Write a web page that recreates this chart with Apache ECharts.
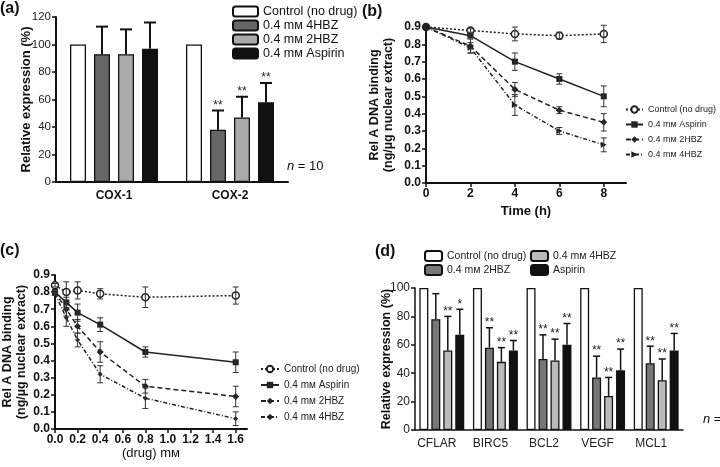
<!DOCTYPE html>
<html>
<head>
<meta charset="utf-8">
<script src="https://cdn.jsdelivr.net/npm/echarts@6/dist/echarts.min.js"></script>
<style>
html,body{margin:0;padding:0;background:#fff;}
#main{width:720px;height:467px;}
</style>
</head>
<body>
<div id="main"></div>
<script>
// (a) COX expression
var catsA = ['COX-1', 'COX-2'];
var a_ctl = [100, 100];
var a_4hbz = [93, 38];
var a_4hbz_hi = [113, 52];
var a_2hbz = [93, 47];
var a_2hbz_hi = [111, 62];
var a_asp = [97, 58];
var a_asp_hi = [116, 72];
var a_stars = ['', '**'];

// (b) time course
var timeB = [0, 2, 4, 6, 8];
var b_ctl = [0.90, 0.88, 0.86, 0.85, 0.86];
var b_ctl_err = [0, 0.01, 0.04, 0.02, 0.05];
var b_asp = [0.90, 0.85, 0.70, 0.60, 0.50];
var b_asp_err = [0, 0.01, 0.05, 0.03, 0.06];
var b_2hbz = [0.90, 0.79, 0.54, 0.42, 0.35];
var b_2hbz_err = [0, 0.04, 0.04, 0.02, 0.05];
var b_4hbz = [0.90, 0.78, 0.45, 0.30, 0.22];
var b_4hbz_err = [0, 0.03, 0.06, 0.02, 0.04];

// (c) dose response
var doseC = [0, 0.1, 0.2, 0.4, 0.8, 1.6];
var c_ctl = [0.84, 0.80, 0.81, 0.79, 0.77, 0.78];
var c_ctl_err = [0.01, 0.06, 0.05, 0.03, 0.06, 0.05];
var c_asp = [0.80, 0.74, 0.68, 0.61, 0.45, 0.39];
var c_asp_err = [0.01, 0.03, 0.05, 0.04, 0.03, 0.06];
var c_2hbz = [0.80, 0.70, 0.60, 0.45, 0.25, 0.19];
var c_2hbz_err = [0.01, 0.04, 0.04, 0.06, 0.04, 0.06];
var c_4hbz = [0.79, 0.65, 0.52, 0.32, 0.18, 0.06];
var c_4hbz_err = [0.01, 0.05, 0.04, 0.05, 0.06, 0.04];

// (d) target genes
var catsD = ['CFLAR', 'BIRC5', 'BCL2', 'VEGF', 'MCL1'];
var d_ctl = [100, 100, 100, 100, 100];
var d_2hbz = [78, 58, 50, 37, 47];
var d_2hbz_hi = [96, 72, 67, 52, 59];
var d_4hbz = [56, 48, 49, 24, 35];
var d_4hbz_hi = [80, 58, 64, 37, 50];
var d_asp = [67, 56, 60, 42, 56];
var d_asp_hi = [85, 63, 75, 57, 68];
var d_2hbz_stars = ['', '**', '**', '**', '**'];
var d_4hbz_stars = ['**', '**', '**', '**', '**'];
var d_asp_stars = ['*', '**', '**', '**', '**'];

var FONT = 'Liberation Sans, Arial, sans-serif';
var MM = 'm\u1D0D';

function lbl(name) { return name.split('|')[1]; }

// error bars on top of grouped bars (upwards only, with cap and stars)
function barErr(gi, vals, his, stars, bw, gap, cap, lw) {
    var data = [], labs = [];
    var n = vals.length;
    vals.forEach(function (v, k) {
        if (!his[k]) return;
        v.forEach(function (y, c) {
            data.push([c, k, y, his[k][c]]);
            labs.push(stars[k] ? stars[k][c] : '');
        });
    });
    return {
        type: 'custom', xAxisIndex: gi, yAxisIndex: gi, z: 5, silent: true,
        encode: { x: 0, y: [2, 3] },
        data: data,
        renderItem: function (params, api) {
            var c = api.value(0), k = api.value(1);
            var p0 = api.coord([c, api.value(2)]);
            var p1 = api.coord([c, api.value(3)]);
            var x = p0[0] - (n * bw + (n - 1) * gap) / 2 + k * (bw + gap) + bw / 2;
            var st = { stroke: '#111', lineWidth: lw };
            var kids = [
                { type: 'line', shape: { x1: x, y1: p0[1], x2: x, y2: p1[1] }, style: st },
                { type: 'line', shape: { x1: x - cap, y1: p1[1], x2: x + cap, y2: p1[1] }, style: st }
            ];
            var s = labs[params.dataIndex];
            if (s) {
                kids.push({ type: 'text', style: { text: s, x: x, y: p1[1] + 1, align: 'center', verticalAlign: 'bottom', fontSize: 12, fontFamily: FONT, fill: '#222' } });
            }
            return { type: 'group', children: kids };
        }
    };
}

// symmetric error bars for the line panels
function lineErr(gi, xs, list, cap) {
    var data = [];
    list.forEach(function (p) {
        xs.forEach(function (x, i) {
            if (p[1][i] > 0) data.push([x, p[0][i] - p[1][i], p[0][i] + p[1][i]]);
        });
    });
    return {
        type: 'custom', xAxisIndex: gi, yAxisIndex: gi, z: 5, silent: true,
        encode: { x: 0, y: [1, 2] },
        data: data,
        renderItem: function (params, api) {
            var lo = api.coord([api.value(0), api.value(1)]);
            var hi = api.coord([api.value(0), api.value(2)]);
            var st = { stroke: '#333', lineWidth: 1 };
            return {
                type: 'group', children: [
                    { type: 'line', shape: { x1: lo[0], y1: lo[1], x2: hi[0], y2: hi[1] }, style: st },
                    { type: 'line', shape: { x1: lo[0] - cap, y1: lo[1], x2: lo[0] + cap, y2: lo[1] }, style: st },
                    { type: 'line', shape: { x1: hi[0] - cap, y1: hi[1], x2: hi[0] + cap, y2: hi[1] }, style: st }
                ]
            };
        }
    };
}

function barS(gi, name, data, color, bw, gap) {
    return {
        type: 'bar', name: name, xAxisIndex: gi, yAxisIndex: gi, data: data,
        barWidth: bw, barGap: gap, silent: true,
        itemStyle: { color: color, borderColor: '#111', borderWidth: 1.3 }
    };
}

function lineS(gi, name, xs, ys, dash, symbol, size, rotate, hollow) {
    return {
        type: 'line', name: name, xAxisIndex: gi, yAxisIndex: gi, z: 4, silent: true,
        data: xs.map(function (x, i) { return [x, ys[i]]; }),
        symbol: symbol, symbolSize: size, symbolRotate: rotate || 0, showAllSymbol: true,
        lineStyle: { color: '#222', width: 1.5, type: dash },
        itemStyle: { color: hollow ? '#fff' : '#222', borderColor: '#222', borderWidth: hollow ? 1.5 : 0 }
    };
}

var axisBase = {
    axisLine: { show: true, lineStyle: { color: '#111', width: 2 } },
    axisTick: { show: true, length: 4, lineStyle: { color: '#111', width: 1.5 } },
    splitLine: { show: false },
    nameMoveOverlap: false
};
function ax(extra) { return Object.assign({}, JSON.parse(JSON.stringify(axisBase)), extra); }

var fix1 = function (v) { return v.toFixed(1); };

var myChart = echarts.init(document.getElementById('main'));
var option = {
    animation: false,
    textStyle: { fontFamily: FONT },
    grid: [
        { left: 56, top: 17, width: 232, height: 165 },
        { left: 426, top: 27, width: 200, height: 156 },
        { left: 52, top: 275, width: 195, height: 154 },
        { left: 415, top: 288, width: 268, height: 142 }
    ],
    xAxis: [
        ax({ gridIndex: 0, type: 'category', data: catsA, axisTick: { show: false },
            axisLabel: { fontWeight: 'bold', fontSize: 12, color: '#111', margin: 8 } }),
        ax({ gridIndex: 1, type: 'value', min: 0, max: 9, interval: 2,
            axisLabel: { fontWeight: 'bold', fontSize: 12, color: '#111', showMaxLabel: false, margin: 5 },
            name: 'Time (h)', nameLocation: 'middle', nameGap: 22,
            nameTextStyle: { fontWeight: 'bold', fontSize: 13, color: '#111' } }),
        ax({ gridIndex: 2, type: 'value', min: 0, max: 1.7, interval: 0.2,
            axisLabel: { fontWeight: 'bold', fontSize: 12, color: '#111', showMaxLabel: false, formatter: fix1, margin: 5 },
            name: '(drug) ' + MM, nameLocation: 'middle', nameGap: 18,
            nameTextStyle: { fontSize: 13, color: '#111' } }),
        ax({ gridIndex: 3, type: 'category', data: catsD, axisTick: { show: false },
            axisLine: { show: true, lineStyle: { color: '#111', width: 1.5 } },
            axisLabel: { fontSize: 12, color: '#222', margin: 8, padding: [0, 10, 0, 0] } })
    ],
    yAxis: [
        ax({ gridIndex: 0, type: 'value', min: 0, max: 120, interval: 20,
            axisLabel: { fontSize: 11.5, color: '#222', margin: 5 },
            name: 'Relative expression (%)', nameLocation: 'middle', nameGap: 23,
            nameTextStyle: { fontWeight: 'bold', fontSize: 13, color: '#111' } }),
        ax({ gridIndex: 1, type: 'value', min: 0, max: 0.9, interval: 0.1,
            axisLabel: { fontWeight: 'bold', fontSize: 12, color: '#111', formatter: fix1, margin: 5 },
            name: 'Rel A DNA binding\n(ng/\u00b5g nuclear extract)', nameLocation: 'middle', nameGap: 30,
            nameTextStyle: { fontWeight: 'bold', fontSize: 12.5, color: '#111', lineHeight: 14 } }),
        ax({ gridIndex: 2, type: 'value', min: 0, max: 0.9, interval: 0.1,
            axisLabel: { fontWeight: 'bold', fontSize: 12, color: '#111', formatter: fix1, margin: 5 },
            name: 'Rel A DNA binding\n(ng/\u00b5g nuclear extract)', nameLocation: 'middle', nameGap: 26,
            nameTextStyle: { fontWeight: 'bold', fontSize: 12.5, color: '#111', lineHeight: 14 } }),
        ax({ gridIndex: 3, type: 'value', min: 0, max: 100, interval: 20,
            axisLine: { show: true, lineStyle: { color: '#111', width: 1.5 } },
            axisLabel: { fontSize: 12, color: '#222', margin: 5 },
            name: 'Relative expression (%)', nameLocation: 'middle', nameGap: 22,
            nameTextStyle: { fontWeight: 'bold', fontSize: 12.5, color: '#111' } })
    ],
    legend: [
        { left: 227, top: 0, orient: 'vertical', itemWidth: 25, itemHeight: 10, itemGap: 1,
          formatter: lbl, selectedMode: false, textStyle: { fontSize: 12.5, color: '#111' },
          data: ['a|Control (no drug)', 'a|0.4 ' + MM + ' 4HBZ', 'a|0.4 ' + MM + ' 2HBZ', 'a|0.4 ' + MM + ' Aspirin'] },
        { left: 620, top: 100, orient: 'vertical', itemWidth: 17, itemHeight: 8, itemGap: 6,
          formatter: lbl, selectedMode: false, textStyle: { fontSize: 9, color: '#222' },
          data: ['b|Control (no drug)', 'b|0.4 ' + MM + ' Aspirin', 'b|0.4 ' + MM + ' 2HBZ', 'b|0.4 ' + MM + ' 4HBZ'] },
        { left: 255, top: 359, orient: 'vertical', itemWidth: 18, itemHeight: 8, itemGap: 6,
          formatter: lbl, selectedMode: false, textStyle: { fontSize: 10, color: '#222' },
          data: ['c|Control (no drug)', 'c|0.4 ' + MM + ' Aspirin', 'c|0.4 ' + MM + ' 2HBZ', 'c|0.4 ' + MM + ' 4HBZ'] },
        { left: 419, top: 245, orient: 'vertical', itemWidth: 17, itemHeight: 10, itemGap: 2,
          formatter: lbl, selectedMode: false, textStyle: { fontSize: 10.5, color: '#222' },
          data: ['d|Control (no drug)', 'd|0.4 ' + MM + ' 2HBZ'] },
        { left: 525, top: 245, orient: 'vertical', itemWidth: 17, itemHeight: 10, itemGap: 2,
          formatter: lbl, selectedMode: false, textStyle: { fontSize: 10.5, color: '#222' },
          data: ['d|0.4 ' + MM + ' 4HBZ', 'd|Aspirin'] }
    ],
    graphic: [
        { type: 'text', left: 0, top: 1, style: { text: '(a)', fontSize: 16, fontWeight: 'bold', fill: '#111', fontFamily: FONT } },
        { type: 'text', left: 362, top: 4, style: { text: '(b)', fontSize: 16, fontWeight: 'bold', fill: '#111', fontFamily: FONT } },
        { type: 'text', left: 0, top: 243, style: { text: '(c)', fontSize: 16, fontWeight: 'bold', fill: '#111', fontFamily: FONT } },
        { type: 'text', left: 375, top: 244, style: { text: '(d)', fontSize: 16, fontWeight: 'bold', fill: '#111', fontFamily: FONT } },
        { type: 'text', left: 287, top: 160, style: { text: '{i|n} = 10', fontSize: 13, fill: '#111', fontFamily: FONT,
            rich: { i: { fontStyle: 'italic', fontSize: 13, fontFamily: FONT } } } },
        { type: 'text', left: 703, top: 413, style: { text: '{i|n} = 10', fontSize: 13, fill: '#111', fontFamily: FONT,
            rich: { i: { fontStyle: 'italic', fontSize: 13, fontFamily: FONT } } } }
    ],
    series: [
        barS(0, 'a|Control (no drug)', a_ctl, '#fff', 16, '50%'),
        barS(0, 'a|0.4 ' + MM + ' 4HBZ', a_4hbz, '#666', 16, '50%'),
        barS(0, 'a|0.4 ' + MM + ' 2HBZ', a_2hbz, '#aaa', 16, '50%'),
        barS(0, 'a|0.4 ' + MM + ' Aspirin', a_asp, '#111', 16, '50%'),
        barErr(0, [a_ctl, a_4hbz, a_2hbz, a_asp], [null, a_4hbz_hi, a_2hbz_hi, a_asp_hi],
            [null, a_stars, a_stars, a_stars], 16, 8, 6, 2),

        lineS(1, 'b|Control (no drug)', timeB, b_ctl, [2, 2], 'circle', 7, 0, true),
        lineS(1, 'b|0.4 ' + MM + ' Aspirin', timeB, b_asp, 'solid', 'rect', 6),
        lineS(1, 'b|0.4 ' + MM + ' 2HBZ', timeB, b_2hbz, [5, 3], 'diamond', 7),
        lineS(1, 'b|0.4 ' + MM + ' 4HBZ', timeB, b_4hbz, [4, 2, 1, 2], 'triangle', 6, -90),
        lineErr(1, timeB, [[b_ctl, b_ctl_err], [b_asp, b_asp_err], [b_2hbz, b_2hbz_err], [b_4hbz, b_4hbz_err]], 3),

        lineS(2, 'c|Control (no drug)', doseC, c_ctl, [2, 2], 'circle', 7, 0, true),
        lineS(2, 'c|0.4 ' + MM + ' Aspirin', doseC, c_asp, 'solid', 'rect', 6),
        lineS(2, 'c|0.4 ' + MM + ' 2HBZ', doseC, c_2hbz, [5, 3], 'diamond', 7),
        lineS(2, 'c|0.4 ' + MM + ' 4HBZ', doseC, c_4hbz, [4, 2, 1, 2], 'diamond', 5),
        lineErr(2, doseC, [[c_ctl, c_ctl_err], [c_asp, c_asp_err], [c_2hbz, c_2hbz_err], [c_4hbz, c_4hbz_err]], 3),

        barS(3, 'd|Control (no drug)', d_ctl, '#fff', 9, '33%'),
        barS(3, 'd|0.4 ' + MM + ' 2HBZ', d_2hbz, '#777', 9, '33%'),
        barS(3, 'd|0.4 ' + MM + ' 4HBZ', d_4hbz, '#bbb', 9, '33%'),
        barS(3, 'd|Aspirin', d_asp, '#111', 9, '33%'),
        barErr(3, [d_ctl, d_2hbz, d_4hbz, d_asp], [null, d_2hbz_hi, d_4hbz_hi, d_asp_hi],
            [null, d_2hbz_stars, d_4hbz_stars, d_asp_stars], 9, 3, 3.5, 1.5)
    ]
};
myChart.setOption(option);
</script>
</body>
</html>
